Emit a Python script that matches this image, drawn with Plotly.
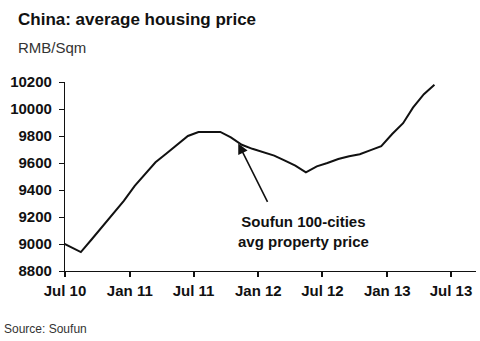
import plotly.graph_objects as go

# ---- data ----
dates = [
    "2010-06-15", "2010-08-15", "2010-09-15", "2010-10-15", "2010-11-15", "2010-12-15",
    "2011-01-15", "2011-02-15", "2011-03-15", "2011-04-15", "2011-05-15", "2011-06-15",
    "2011-07-15", "2011-08-15", "2011-09-15", "2011-10-15", "2011-11-15", "2011-12-15",
    "2012-01-15", "2012-02-15", "2012-03-15", "2012-04-15", "2012-05-15", "2012-06-15",
    "2012-07-15", "2012-08-15", "2012-09-15", "2012-10-15", "2012-11-15", "2012-12-15",
    "2013-01-15", "2013-02-15", "2013-03-15", "2013-04-15", "2013-05-15",
]
price = [
    9020, 8940, 9035, 9130, 9225, 9320,
    9430, 9520, 9605, 9670, 9735, 9800,
    9830, 9830, 9830, 9790, 9735, 9705,
    9680, 9655, 9620, 9580, 9530, 9575,
    9600, 9630, 9650, 9665, 9695, 9725,
    9815, 9895, 10010, 10110, 10180,
]

y_ticks = [8800, 9000, 9200, 9400, 9600, 9800, 10000, 10200]

title_text = "China: average housing price"
unit_text = "RMB/Sqm"
source_text = "Source: Soufun"
series_label = "Soufun 100-cities<br>avg property price"

# ---- layout helpers (pixel -> paper) ----
W, H = 480, 341
L, R, T, B = 65, 4, 82, 70
pw, ph = W - L - R, H - T - B


def px(x):
    return (x - L) / pw


def py(y):
    return (H - B - y) / ph


FONT = "Liberation Sans, Arial, sans-serif"

fig = go.Figure()
fig.add_trace(go.Scatter(
    x=dates, y=price, mode="lines",
    line=dict(color="#111111", width=2),
    hoverinfo="skip", showlegend=False,
))

fig.update_layout(
    width=W, height=H,
    margin=dict(l=L, r=R, t=T, b=B, pad=0),
    paper_bgcolor="white", plot_bgcolor="white",
    font=dict(family=FONT, color="#111111"),
    xaxis=dict(
        type="date",
        range=["2010-07-01", "2013-09-10"],
        tick0="2010-07-01", dtick="M6", tickformat="%b %y",
        showgrid=False, zeroline=False,
        showline=True, linecolor="#111111", linewidth=1.2,
        ticks="outside", ticklen=5, tickwidth=2, tickcolor="#111111",
        tickfont=dict(family=FONT, size=15, color="#111111", weight="bold"),
        ticklabelstandoff=1,
    ),
    yaxis=dict(
        range=[8800, 10200],
        tickvals=y_ticks, ticktext=[str(v) for v in y_ticks],
        showgrid=False, zeroline=False,
        showline=True, linecolor="#111111", linewidth=1.2,
        ticks="outside", ticklen=5, tickwidth=1.2, tickcolor="#111111",
        tickfont=dict(family=FONT, size=15, color="#111111", weight="bold"),
        ticklabelstandoff=4,
    ),
)

annotations = [
    dict(text=title_text, xref="paper", yref="paper", x=px(16), y=py(19),
         xanchor="left", yanchor="middle", showarrow=False,
         font=dict(family=FONT, size=17, color="#111111", weight="bold")),
    dict(text=unit_text, xref="paper", yref="paper", x=px(16), y=py(48),
         xanchor="left", yanchor="middle", showarrow=False,
         font=dict(family=FONT, size=15, color="#333333")),
    dict(text=source_text, xref="paper", yref="paper", x=px(2), y=py(329),
         xanchor="left", yanchor="middle", showarrow=False,
         font=dict(family=FONT, size=12, color="#333333")),
    dict(text=series_label, xref="paper", yref="paper", x=px(303), y=py(231),
         xanchor="center", yanchor="middle", showarrow=False, align="center",
         font=dict(family=FONT, size=15, color="#111111", weight="bold")),
    dict(text="", xref="x", yref="y", x="2011-11-05", y=9745,
         ax=30, ay=60, axref="pixel", ayref="pixel",
         showarrow=True, arrowhead=2, arrowsize=1.3, arrowwidth=1.6,
         arrowcolor="#111111"),
]
fig.update_layout(annotations=annotations)

fig.write_html("out.html")
